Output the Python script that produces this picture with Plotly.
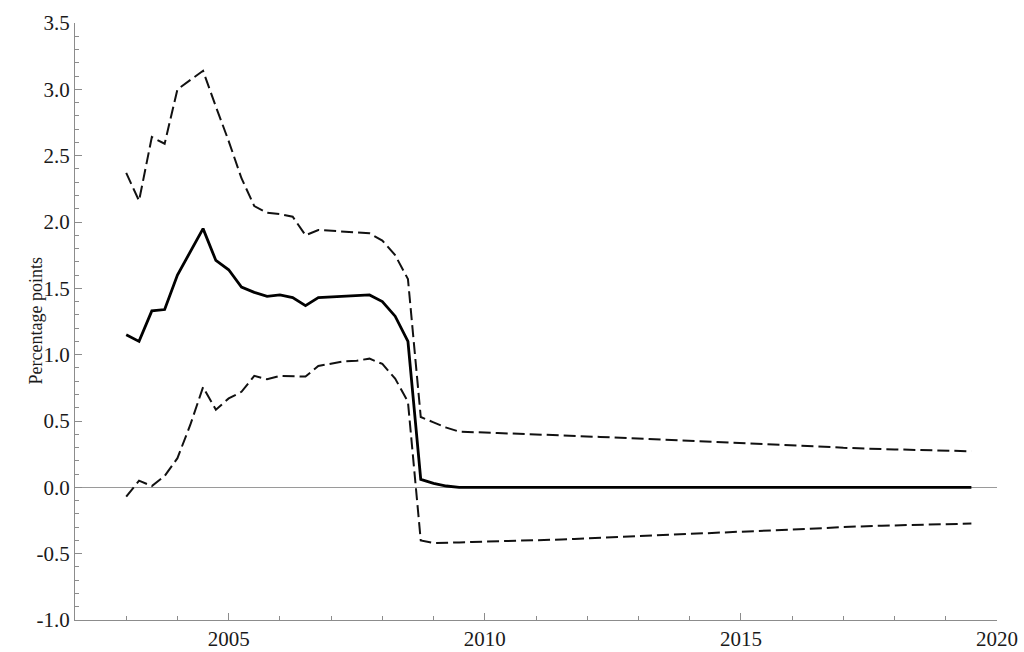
import plotly.graph_objects as go

# Quarterly dates, 2003Q1 .. 2019Q3
quarters = [2003 + 0.25 * i for i in range(67)]

estimate = [
    1.15, 1.10, 1.33, 1.34, 1.60, 1.78, 1.95, 1.71, 1.64, 1.51,
    1.47, 1.44, 1.45, 1.43, 1.37, 1.43, 1.435, 1.44, 1.44, 1.45,
    1.40, 1.29, 1.10, 0.06, 0.03, 0.01, 0.0,
    0.0, 0.0, 0.0, 0.0, 0.0, 0.0, 0.0, 0.0, 0.0, 0.0,
    0.0, 0.0, 0.0, 0.0, 0.0, 0.0, 0.0, 0.0, 0.0, 0.0,
    0.0, 0.0, 0.0, 0.0, 0.0, 0.0, 0.0, 0.0, 0.0, 0.0,
    0.0, 0.0, 0.0, 0.0, 0.0, 0.0, 0.0, 0.0, 0.0, 0.0,
]

upper = [
    2.37, 2.16, 2.64, 2.59, 3.00, 3.07, 3.14, 2.87, 2.61, 2.33,
    2.12, 2.07, 2.06, 2.04, 1.90, 1.94, 1.935, 1.93, 1.925, 1.915,
    1.86, 1.75, 1.57, 0.53, 0.49, 0.45, 0.42,
    0.415, 0.412, 0.409, 0.406, 0.403, 0.400, 0.396, 0.392, 0.388, 0.384,
    0.380, 0.376, 0.372, 0.368, 0.364, 0.360, 0.356, 0.352, 0.348, 0.344,
    0.340, 0.336, 0.332, 0.328, 0.324, 0.320, 0.315, 0.310, 0.304, 0.298,
    0.293, 0.290, 0.288, 0.286, 0.284, 0.282, 0.280, 0.278, 0.275, 0.272,
]

lower = [
    -0.07, 0.05, 0.01, 0.085, 0.22, 0.47, 0.755, 0.585, 0.67, 0.72,
    0.84, 0.815, 0.84, 0.84, 0.835, 0.915, 0.935, 0.95, 0.955, 0.97,
    0.93, 0.82, 0.645, -0.40, -0.42, -0.42, -0.415,
    -0.412, -0.410, -0.408, -0.406, -0.403, -0.400, -0.397, -0.393, -0.389, -0.385,
    -0.381, -0.377, -0.373, -0.369, -0.365, -0.361, -0.357, -0.353, -0.349, -0.345,
    -0.341, -0.337, -0.333, -0.329, -0.325, -0.321, -0.316, -0.311, -0.305, -0.299,
    -0.294, -0.291, -0.289, -0.287, -0.285, -0.283, -0.281, -0.279, -0.276, -0.273,
]

x_ticks = [2005, 2010, 2015, 2020]
y_ticks = [-1.0, -0.5, 0.0, 0.5, 1.0, 1.5, 2.0, 2.5, 3.0, 3.5]
y_title = "Percentage points"

FONT = "Liberation Serif, Times New Roman, serif"
AXIS_GRAY = "#8c8c8c"
TEXT = "#1a1a1a"

fig = go.Figure()
fig.add_trace(go.Scatter(x=quarters, y=upper, mode="lines",
                         line=dict(color="#111111", width=2.0, dash="12px,5px"),
                         showlegend=False))
fig.add_trace(go.Scatter(x=quarters, y=lower, mode="lines",
                         line=dict(color="#111111", width=2.0, dash="12px,5px"),
                         showlegend=False))
fig.add_trace(go.Scatter(x=quarters, y=estimate, mode="lines",
                         line=dict(color="#000000", width=2.8),
                         showlegend=False))

fig.update_layout(
    width=1024, height=652,
    margin=dict(l=75, r=27, t=23, b=32),
    paper_bgcolor="white", plot_bgcolor="white",
    font=dict(family=FONT, size=21, color=TEXT),
    xaxis=dict(
        range=[2002, 2020], tickvals=x_ticks, ticktext=[str(v) for v in x_ticks],
        automargin=False,
        showgrid=False, zeroline=False, showline=True, linecolor=AXIS_GRAY, linewidth=1,
        ticks="inside", ticklen=7, tickcolor=AXIS_GRAY, tickwidth=1,
        minor=dict(dtick=1, tick0=2000, ticks="inside", ticklen=4, tickcolor=AXIS_GRAY, showgrid=False),
        tickfont=dict(family=FONT, size=21, color=TEXT),
    ),
    yaxis=dict(
        range=[-1.0, 3.5], tickvals=y_ticks, ticktext=[f"{v:.1f}" for v in y_ticks],
        automargin=False,
        showgrid=False, zeroline=True, zerolinecolor="#9a9a9a", zerolinewidth=1,
        showline=True, linecolor=AXIS_GRAY, linewidth=1,
        ticks="inside", ticklen=7, tickcolor=AXIS_GRAY, tickwidth=1,
        minor=dict(dtick=0.1, tick0=0, ticks="inside", ticklen=4, tickcolor=AXIS_GRAY, showgrid=False),
        tickfont=dict(family=FONT, size=21, color=TEXT),
    ),
    annotations=[dict(
        text=y_title, xref="paper", yref="paper", x=0, y=0.5,
        xanchor="center", yanchor="middle", xshift=-40, textangle=-90,
        showarrow=False, font=dict(family=FONT, size=18, color=TEXT),
    )],
)

fig.write_html("out.html", config={"displayModeBar": False},
               post_script="document.body.style.margin='0';document.body.style.overflow='hidden';")
